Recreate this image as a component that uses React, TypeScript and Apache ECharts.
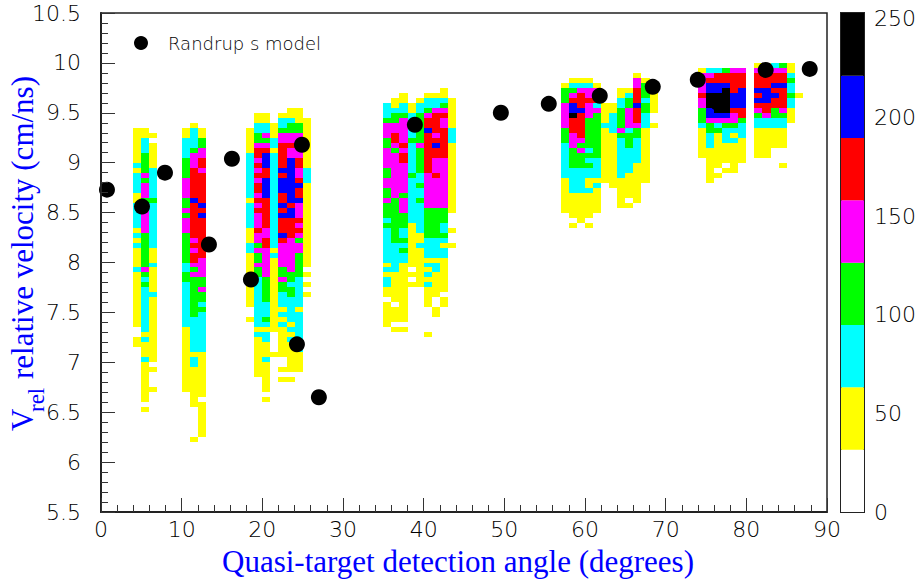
import React, { useEffect, useRef } from "react";
import * as echarts from "echarts";

const V_TOP = 10.5;
const V_BIN = 0.05;
const ANGLE_BIN = 1;

// Level index: 0 empty, 1 yellow, 2 cyan, 3 green, 4 magenta, 5 red, 6 blue, 7 black
const levelColors = ["#ffffff", "#ffff00", "#00ffff", "#00ff00", "#ff00ff", "#ff0000", "#0000ff", "#000000"];
const levelBand = [31.6, 31.6, 31.6, 31.6, 31.6, 31.6, 31.6, 31.8];

const angleBins = [
  4, 5, 6, 10, 11, 12, 18, 19, 20, 21, 22, 23, 24, 25,
  35, 36, 37, 38, 39, 40, 41, 42, 43,
  57, 58, 59, 60, 61, 62, 63, 64, 65, 66, 67, 68,
  74, 75, 76, 77, 78, 79, 81, 82, 83, 84, 85, 86,
];
const topRows = [
  23, 23, 24, 23, 22, 23, 23, 20, 20, 22, 20, 19, 19, 21,
  18, 17, 16, 18, 17, 16, 16, 15, 17,
  14, 13, 13, 13, 14, 18, 18, 15, 15, 12, 13, 15,
  11, 11, 11, 11, 11, 11, 10, 10, 10, 10, 10, 16,
];
const levelRuns = [
  "1*7 2 1 2*4 1*2 2*5 1 2 1 2 1*4 2 1*11 0*2 1*2",
  "1*2 2*3 3*4 4 3 4*3 3 4*6 3*7 4 3 2 3 2*9 1 2 1*3 2 1*8 0 1",
  "1 0 1*5 2*6 3 2*9 1*3 2 1*5 2 1*13 0 1 0*3 1",
  "1*2 2*4 3*4 4*4 3*2 4 3 4*3 3*6 2*2 3*2 2*9 1*13",
  "1 2*4 3 4*3 5*6 6 5*7 4 5 4 5*2 4 3 4 3*8 2*7 1 2*2 1*8 0*6 1",
  "1*2 3*2 4*2 5*2 4 5*6 6 5 6 5*8 4*4 3*2 4 3*2 2 3 2*8 1*9 0 1*7",
  "1*5 2*9 1 2*5 1*3 2*2 1*11 0*2 1",
  "1*2 2*2 3*2 4 5*2 4 5 4 5 4 5*2 4 5 4 5 4*3 5 4*2 3 4 3*2 4 3*2 2*10 1 2 1*8",
  "1*2 2*2 4 3 4 5 6*3 5*2 6*4 5*6 4*2 5*2 4*6 3*5 2*3 3 2 1 2*2 1*3 2 1*6 0 1",
  "1*3 2*2 1 2*19 1 2 1*15 0*4 1",
  "1 2*2 3 4*2 5*5 6 5 6*3 5*2 6 5 6 5*3 6 5 4*5 3*2 4 3*2 2*3 1 2 1 2 1*6 0*2 1 0 1",
  "1*2 2 3*2 4*2 5 4*2 6*9 5 6*2 5*4 4*7 3*2 2 3*2 2*5 1 2 1 2 1*6 0 1",
  "1*3 3*2 4*5 5*2 4*2 5 6 5*2 6 4*3 5 4 5 4 3 4*2 3*5 2*6 1 2*8 1*4",
  "1*10 2*3 1*17 0 1 0 1 0 1",
  "2*3 3 4*3 3*2 4*4 3*2 4*2 3*2 4 3*3 2 3 2*7 1 2 1 2*2 1*2 0 1*5",
  "1*2 2 3*2 4*2 5*2 4 3 4*9 3*9 2*6 1*6 0 1*3 0 1",
  "1*2 2*2 3 4*5 5 4 5*2 4*6 3 4*3 3*3 2*2 3 2 3 2*2 1*12 0 1",
  "1*2 2*5 3 2*6 3 2*9 1*9 0 1 0 1",
  "1 2*2 3*6 4 3*5 2*2 3 2*2 3 2*6 1*2 2 1*8",
  "1 2*2 3 4 5*2 6 5*8 4*7 3*6 2*4 1 2 1 2 1 2 1*4 0*5 1",
  "1 2*2 4 5*4 4 5 6 5*2 4*3 5 4*6 3*6 2*4 1 2*2 1*5 0*2 1*2",
  "1*2 2 3 4 5 4*2 5*6 4*10 3*3 2*2 3 2 1 2*2 1*7 0 1*2",
  "1*6 2*3 1*14 0*3 1 0*2 1",
  "1 3*3 4*5 3*3 2*7 1*7",
  "1 2 3 4 5 6*2 7 5*3 4*3 3*4 2*5 1*5 0 1",
  "1 2 4 5*3 6 5*5 4 3 4 3*3 2*5 1*6",
  "1 2 4*2 5 4*3 3*6 2 3 2 3 2*2 1*2 2 1*5 0 1",
  "1 4*2 5 2 4 3*9 2*4 1 2 1*5",
  "1*4 2 1*11",
  "1*2 2*4 1*11",
  "1*2 2*2 3*4 4 3 2*8 1*6",
  "1 2 3*2 4*4 2 3*3 2*5 1*5 0 1",
  "1 4*2 5*3 6 5*3 4 3*2 2*5 1*8",
  "1 3*3 2 3*2 2*3 1*11",
  "1*5 0*2 1",
  "1 4*4 5 4*2 3*3 2 1*6",
  "2 4 5 6*2 7*3 6*2 4 3*2 2*3 1*7",
  "2 5*2 6*2 7*4 6 4 2 3 1*7 0 1",
  "3 5*2 6 7*5 6 4 3 2*3 1*4 0 1",
  "4 5*4 6*3 5 4*2 3 2 1 2 1*6",
  "4 5*3 6*4 5*2 3 2*3 1*5",
  "1 4 5*3 6 5 6 5 4 3 2*2 1*6",
  "1*2 5*3 6*3 5*2 4 2*2 1*6",
  "2 4 5*2 6 5 6 5*2 3*2 2*2 1*4",
  "3 4 5*2 6 5*4 4 3 2*2 1*4 0*3 1",
  "1*2 2 3 2*2 3 2*2 1*3",
  "1",
];

const modelAngles = [0.74, 5.08, 7.93, 13.38, 16.23, 18.59, 24.29, 24.91, 27.01, 38.91, 49.57, 55.51, 61.83, 68.4, 73.98, 76.46, 82.4, 87.86];
const modelVelocities = [8.73, 8.56, 8.9, 8.18, 9.04, 7.83, 7.18, 9.18, 6.65, 9.38, 9.5, 9.59, 9.67, 9.76, 9.83, 9.6, 9.93, 9.94];

const LEGEND_NAME = "Randrup s model";
const X_TITLE = "Quasi-target detection angle (degrees)";
const Y_TITLE = "relative velocity (cm/ns)";

const TICK_FONT = "DejaVu Sans";
const TITLE_FONT = "Liberation Serif";
const INK = "#000000";

function buildCells(): number[][] {
  const cells: number[][] = [];
  angleBins.forEach((angle, col) => {
    let row = topRows[col];
    levelRuns[col].split(" ").forEach((token) => {
      const [lvl, count] = token.split("*");
      const n = count ? Number(count) : 1;
      for (let k = 0; k < n; k++) {
        const level = Number(lvl);
        if (level > 0) cells.push([angle, V_TOP - V_BIN * (row + 1), level]);
        row++;
      }
    });
  });
  return cells;
}

export default function App() {
  const ref = useRef<HTMLDivElement>(null);
  useEffect(() => {
    const chart = echarts.init(ref.current!, undefined, { renderer: "svg" });
    const tickLabel = { color: INK, fontFamily: TICK_FONT, fontWeight: 200, fontSize: 22 };
    chart.setOption({
      animation: false,
      backgroundColor: "#ffffff",
      grid: [
        { left: 101, top: 13, width: 726, height: 499, show: true, borderColor: "#222", borderWidth: 1.5, backgroundColor: "transparent" },
        { left: 841, top: 13, width: 23, height: 499, show: true, borderColor: "#222", borderWidth: 2, backgroundColor: "transparent" },
      ],
      xAxis: [
        {
          type: "value", gridIndex: 0, min: 0, max: 90, interval: 10, z: 5,
          axisLine: { lineStyle: { color: "#222", width: 2 } },
          axisTick: { inside: true, length: 14, lineStyle: { color: "#333", width: 1 } },
          minorTick: { show: true, splitNumber: 5, length: 7, lineStyle: { color: "#333", width: 1 } },
          splitLine: { show: false },
          axisLabel: { ...tickLabel, margin: 6 },
        },
        {
          type: "category", gridIndex: 1, data: ["count"],
          axisLine: { show: false }, axisTick: { show: false }, axisLabel: { show: false }, splitLine: { show: false },
        },
      ],
      yAxis: [
        {
          type: "value", gridIndex: 0, min: 5.5, max: 10.5, interval: 0.5, z: 5,
          axisLine: { lineStyle: { color: "#222", width: 2 } },
          axisTick: { inside: true, length: 14, lineStyle: { color: "#333", width: 1 } },
          minorTick: { show: true, splitNumber: 5, length: 7, lineStyle: { color: "#333", width: 1 } },
          splitLine: { show: false },
          axisLabel: { ...tickLabel, margin: 20 },
        },
        {
          type: "value", gridIndex: 1, position: "right", min: 0, max: 253, interval: 50, z: 5,
          axisLine: { show: false },
          axisTick: { inside: true, length: 23, lineStyle: { color: "#000", width: 1 } },
          splitLine: { show: false },
          axisLabel: { ...tickLabel, margin: 10, showMaxLabel: false },
        },
      ],
      legend: {
        show: true,
        data: [LEGEND_NAME],
        left: 129,
        top: 29,
        icon: "circle",
        itemWidth: 14,
        itemHeight: 14,
        textStyle: { color: INK, fontFamily: TICK_FONT, fontWeight: 200, fontSize: 18, padding: [0, 0, 0, 15] },
      },
      series: [
        {
          type: "custom",
          coordinateSystem: "cartesian2d",
          xAxisIndex: 0,
          yAxisIndex: 0,
          silent: true,
          z: 2,
          data: buildCells(),
          encode: { x: 0, y: 1 },
          renderItem: (_p: any, api: any) => {
            const a = api.value(0);
            const v = api.value(1);
            const p0 = api.coord([a, v + V_BIN]);
            const p1 = api.coord([a + ANGLE_BIN, v]);
            const x = Math.round(p0[0]);
            const y = Math.round(p0[1]);
            return {
              type: "rect",
              shape: { x, y, width: Math.round(p1[0]) - x, height: Math.round(p1[1]) - y },
              style: { fill: levelColors[api.value(2)], stroke: null },
            };
          },
        },
        {
          type: "scatter",
          name: LEGEND_NAME,
          xAxisIndex: 0,
          yAxisIndex: 0,
          z: 4,
          symbol: "circle",
          symbolSize: 16,
          itemStyle: { color: "#000000", opacity: 1 },
          data: modelAngles.map((a, i) => [a, modelVelocities[i]]),
        },
        ...levelBand.map((band, i) => ({
          type: "bar",
          xAxisIndex: 1,
          yAxisIndex: 1,
          stack: "scale",
          barWidth: "100%",
          silent: true,
          z: 2,
          itemStyle: { color: levelColors[i] },
          data: [band],
        })),
      ],
      graphic: [
        {
          type: "text", left: 222, top: 546,
          style: { text: X_TITLE, fill: "#0000ff", fontFamily: TITLE_FONT, fontSize: 31 },
        },
        {
          type: "group", x: 7, y: 431, rotation: Math.PI / 2,
          children: [
            { type: "text", x: 0, y: 0, style: { text: "V", fill: "#0000ff", fontFamily: TITLE_FONT, fontSize: 31, textVerticalAlign: "top" } },
            { type: "text", x: 19, y: 18, style: { text: "rel", fill: "#0000ff", fontFamily: TITLE_FONT, fontSize: 23, textVerticalAlign: "top" } },
            { type: "text", x: 52, y: 0, style: { text: Y_TITLE, fill: "#0000ff", fontFamily: TITLE_FONT, fontSize: 31, textVerticalAlign: "top" } },
          ],
        },
      ],
    });
    return () => chart.dispose();
  }, []);
  return <div ref={ref} style={{ position: "absolute", left: 0, top: 0, width: 920, height: 583 }} />;
}
